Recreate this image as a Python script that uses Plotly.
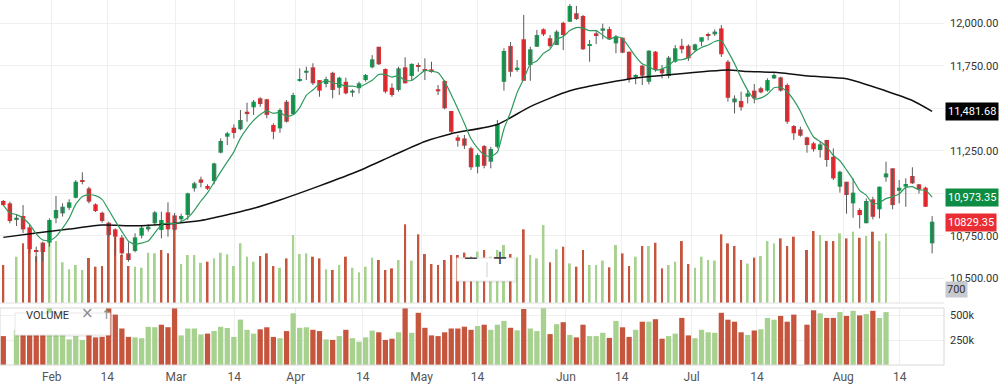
import plotly.graph_objects as go
import pandas as pd

# ---------------- data ----------------
open_ = [10955, 10941, 10843, 10867, 10800, 10661, 10710, 10710, 10853, 10882,
         10915, 10974, 11078, 11029, 10935, 10886, 10827, 10788, 10740, 10647,
         10661, 10751, 10788, 10824, 10784, 10888, 10870, 10847, 10873, 11029,
         11082, 11043, 11072, 11239, 11333, 11386, 11377, 11480, 11506, 11559,
         11553, 11402, 11382, 11539, 11466, 11661, 11709, 11741, 11666, 11643,
         11709, 11621, 11656, 11592, 11618, 11666, 11741, 11862, 11731, 11621,
         11608, 11741, 11690, 11755, 11731, 11729, 11612, 11661, 11484, 11329,
         11323, 11265, 11156, 11278, 11186, 11274, 11656, 11866, 11731, 11906,
         11755, 11862, 11965, 11912, 11872, 12003, 12009, 12059, 12043, 11866,
         11941, 11956, 11966, 11882, 11915, 11833, 11682, 11751, 11656, 11833,
         11731, 11690, 11774, 11868, 11868, 11843, 11892, 11937, 11935, 11970,
         11774, 11535, 11543, 11568, 11604, 11618, 11604, 11676, 11682, 11637,
         11396, 11376, 11329, 11294, 11255, 11314, 11215, 11039, 11068, 10941,
         10902, 10824, 10965, 10906, 11094, 11147, 11015, 11039, 11102, 11053,
         11033, 10706]
high = [10961, 10951, 10873, 10931, 10814, 10686, 10715, 10853, 10985, 10941,
        10965, 11078, 11124, 11039, 10941, 10892, 10833, 10794, 10755, 10712,
        10765, 10814, 10818, 10896, 10892, 10947, 10885, 10880, 11004, 11068,
        11098, 11053, 11180, 11323, 11362, 11406, 11490, 11533, 11549, 11565,
        11556, 11412, 11500, 11549, 11592, 11735, 11745, 11765, 11666, 11686,
        11715, 11686, 11680, 11612, 11657, 11702, 11813, 11862, 11735, 11647,
        11745, 11800, 11765, 11768, 11794, 11774, 11637, 11666, 11484, 11343,
        11343, 11274, 11235, 11284, 11274, 11431, 11853, 11890, 11784, 12049,
        11862, 11961, 11970, 11931, 11961, 12009, 12113, 12102, 12049, 11902,
        11961, 11998, 11980, 11931, 11917, 11833, 11700, 11755, 11841, 11837,
        11755, 11808, 11872, 11909, 11876, 11880, 11915, 11945, 11964, 11990,
        11784, 11576, 11598, 11608, 11643, 11627, 11676, 11706, 11686, 11647,
        11402, 11392, 11333, 11303, 11308, 11314, 11264, 11133, 11068, 11088,
        10912, 10970, 10980, 11039, 11186, 11147, 11078, 11088, 11153, 11055,
        11039, 10866]
low = [10925, 10824, 10808, 10766, 10650, 10595, 10598, 10686, 10824, 10863,
       10902, 10970, 11053, 10941, 10890, 10827, 10745, 10635, 10627, 10598,
       10653, 10735, 10775, 10810, 10735, 10745, 10780, 10835, 10844, 11010,
       11035, 11020, 11053, 11235, 11284, 11323, 11372, 11421, 11461, 11509,
       11441, 11318, 11356, 11416, 11461, 11657, 11666, 11637, 11568, 11623,
       11559, 11578, 11582, 11568, 11588, 11657, 11735, 11755, 11588, 11568,
       11598, 11647, 11666, 11715, 11666, 11709, 11578, 11494, 11353, 11274,
       11261, 11137, 11118, 11147, 11147, 11265, 11604, 11686, 11715, 11662,
       11662, 11862, 11925, 11856, 11872, 11843, 12009, 12019, 11843, 11774,
       11878, 11906, 11902, 11824, 11824, 11651, 11641, 11637, 11641, 11715,
       11676, 11676, 11768, 11823, 11778, 11833, 11866, 11900, 11925, 11802,
       11539, 11470, 11486, 11529, 11529, 11588, 11598, 11672, 11598, 11408,
       11314, 11333, 11239, 11245, 11210, 11156, 11078, 11004, 10880, 10856,
       10794, 10824, 10847, 10853, 11068, 10906, 10941, 10921, 11055, 10999,
       10921, 10647]
close = [10931, 10837, 10857, 10788, 10672, 10656, 10655, 10843, 10902, 10921,
         10947, 11068, 11070, 10951, 10896, 10837, 10755, 10745, 10647, 10608,
         10741, 10798, 10804, 10888, 10843, 10788, 10786, 10867, 11000, 11059,
         11062, 11027, 11176, 11308, 11353, 11355, 11431, 11466, 11539, 11525,
         11461, 11362, 11490, 11421, 11578, 11672, 11721, 11647, 11604, 11672,
         11608, 11680, 11588, 11604, 11647, 11696, 11788, 11759, 11598, 11578,
         11735, 11647, 11761, 11745, 11721, 11719, 11600, 11500, 11362, 11309,
         11280, 11153, 11225, 11162, 11261, 11408, 11837, 11715, 11739, 11662,
         11847, 11931, 11935, 11866, 11951, 11931, 12102, 12025, 11847, 11878,
         11931, 11970, 11906, 11921, 11827, 11671, 11696, 11692, 11839, 11725,
         11706, 11798, 11853, 11847, 11794, 11876, 11918, 11925, 11951, 11818,
         11562, 11558, 11506, 11588, 11559, 11594, 11666, 11696, 11604, 11421,
         11353, 11339, 11284, 11259, 11288, 11196, 11088, 11127, 10990, 11004,
         10872, 10955, 10862, 11039, 11117, 10931, 11033, 11055, 11059, 11023,
         10921, 10833]
# volume in thousands (None = no volume printed for that bar)
volume_k = [289, None, 352, 454, 420, 355, 400, 628, 472, 310,
            256, 289, 251, 342, 276, 281, 600, 504, 365, 281,
            276, 268, 382, 378, 403, 378, 618, 296, 365, 365,
            306, 314, 340, 382, 370, 281, 454, 352, 314, 357,
            377, 281, 268, 339, 517, 372, 377, 352, 339, 256,
            251, 289, 352, 268, 233, 276, 344, 327, 251, 263,
            327, 598, 322, 522, 372, 296, 289, 327, 365, 365,
            383, 352, 390, 403, 352, 403, 441, 372, 347, 560,
            365, 339, 593, 309, 408, 428, 301, 276, 403, 289,
            289, 322, 271, 441, 377, 281, 352, 433, 433, 458,
            263, 289, 314, 471, 296, 268, 352, 327, 322, 522,
            453, 433, 327, 300, 345, 357, 471, 453, 491, 433,
            504, None, 403, 547, 517, 471, 471, 529, 491, 542,
            496, 509, 542, 471, 529, None, None, None, None, None,
            None, None]
# long moving average at these bars
sma_long_bar = [0, 5, 10, 15, 20, 25, 30, 35, 38, 42, 48, 54, 59, 64, 68, 75,
                80, 86, 95, 101, 110, 113, 117, 123, 128, 134, 138, 141]
sma_long_val = [10741, 10767, 10790, 10813, 10809, 10820, 10840, 10883, 10912,
                10961, 11044, 11133, 11220, 11305, 11351, 11405, 11510, 11603,
                11673, 11697, 11725, 11716, 11712, 11688, 11674, 11602, 11546,
                11482]
month_labels = ["Feb", "14", "Mar", "14", "Apr", "14", "May", "14",
                "Jun", "14", "Jul", "14", "Aug", "14"]
price_ticks = [10500, 10750, 11000, 11250, 11500, 11750, 12000]
price_tick_text = ["10,500.00", "10,750.00", "", "11,250.00", "",
                   "11,750.00", "12,000.00"]
last_long, last_short, last_close = 11481.68, 10973.35, 10829.35

# ---------------- layout constants ----------------
W, H = 1000, 392
PLOT_R = 944
label_bar_pos = [7.36, 15.78, 26.21, 35.06, 44.38, 54.55, 63.5, 72.0,
                 85.4, 93.9, 104.5, 114.4, 127.5, 136.1]

UP, DN = "#13a052", "#ec2a2f"
VUP, VDN = "#a7d18e", "#c5553d"
WICK = "#5a5a5a"
GRID = "#efefef"
FONT = "Roboto, 'Liberation Sans', Arial, sans-serif"

N = len(close)
idx = list(range(N))


def py(p):  # pixel row -> paper y
    return 1 - p / H


def px(p):  # pixel column -> paper x
    return p / PLOT_R


sma_short = pd.Series(close).rolling(5, min_periods=1).mean().tolist()

vol_colors = []
for i in idx:
    ref = close[i - 1] if i > 0 else open_[i]
    vol_colors.append(VUP if close[i] >= ref else VDN)

body_base = [min(o, c) for o, c in zip(open_, close)]
body_h = [max(abs(c - o), 5) for o, c in zip(open_, close)]
body_col = [UP if c >= o else DN for o, c in zip(open_, close)]

wx, wy = [], []
for i in idx:
    wx += [i, i, None]
    wy += [low[i], high[i], None]

fig = go.Figure()
# volume underlay in the price pane
fig.add_trace(go.Bar(x=idx, y=volume_k, marker=dict(color=vol_colors, line_width=0),
                     width=0.3, xaxis="x", yaxis="y", hoverinfo="skip"))
# volume pane
fig.add_trace(go.Bar(x=idx, y=volume_k, marker=dict(color=vol_colors, line_width=0),
                     width=0.8, xaxis="x2", yaxis="y2", hoverinfo="skip"))
# candles
fig.add_trace(go.Scatter(x=wx, y=wy, mode="lines", line=dict(color=WICK, width=1),
                         xaxis="x", yaxis="y3", hoverinfo="skip"))
fig.add_trace(go.Bar(x=idx, y=body_h, base=body_base,
                     marker=dict(color=body_col, line_width=0), width=0.68,
                     xaxis="x", yaxis="y3", hoverinfo="skip"))
# moving averages
fig.add_trace(go.Scatter(x=sma_long_bar, y=sma_long_val, mode="lines",
                         line=dict(color="#111111", width=1.5, shape="spline", smoothing=0.6),
                         xaxis="x", yaxis="y3", hoverinfo="skip"))
fig.add_trace(go.Scatter(x=idx, y=sma_short, mode="lines",
                         line=dict(color="#2f9a5e", width=1.2, shape="spline", smoothing=0.5),
                         xaxis="x", yaxis="y3", hoverinfo="skip"))

xr = [-0.5, 142.8]
common_x = dict(range=xr, tickvals=label_bar_pos, showgrid=True, gridcolor=GRID,
                zeroline=False, showline=False, ticks="", fixedrange=True)

fig.update_layout(
    width=W, height=H,
    margin=dict(l=0, r=W - PLOT_R, t=0, b=0),
    paper_bgcolor="white", plot_bgcolor="white",
    showlegend=False, barmode="overlay", hovermode=False,
    font=dict(family=FONT, size=12, color="#333"),
    xaxis=dict(domain=[0, 1], anchor="y", showticklabels=False, **common_x),
    yaxis=dict(domain=[py(303), 1], range=[0, 303 * 7.6], visible=False, fixedrange=True),
    yaxis3=dict(overlaying="y", anchor="x", side="right", range=[10355, 12137],
                tickvals=price_ticks, ticktext=price_tick_text, showgrid=True,
                gridcolor=GRID, zeroline=False, showline=False, ticks="",
                ticklabelstandoff=5, tickfont=dict(size=11, color="#333"),
                automargin=False, fixedrange=True),
    xaxis2=dict(domain=[0, 1], anchor="y2", ticktext=month_labels, showticklabels=True,
                tickfont=dict(size=12, color="#555"), ticklabelstandoff=3,
                automargin=False, **common_x),
    yaxis2=dict(domain=[py(365), py(308)], anchor="x2", side="right", range=[0, 570],
                tickvals=[250, 500], ticktext=["250k", "500k"], showgrid=True,
                gridcolor=GRID, zeroline=False, showline=False, ticks="",
                ticklabelstandoff=5, tickfont=dict(size=11, color="#333"),
                automargin=False, fixedrange=True),
)

shapes = [
    dict(type="line", xref="paper", yref="paper", x0=0, x1=1, y0=py(303), y1=py(303),
         line=dict(color="#e2e2e2", width=1)),
    dict(type="rect", xref="paper", yref="paper", x0=0, x1=1, y0=py(365), y1=py(308),
         line=dict(color="#d8d8d8", width=1)),
    # soft shadows + boxes for the study legend and the zoom control
    dict(type="rect", xref="paper", yref="paper", x0=px(16), x1=px(112), y0=py(337), y1=py(314),
         fillcolor="rgba(0,0,0,0.06)", line_width=0),
    dict(type="rect", xref="paper", yref="paper", x0=px(15), x1=px(110), y0=py(335), y1=py(313),
         fillcolor="white", line=dict(color="#e6e6e6", width=1)),
    dict(type="rect", xref="paper", yref="paper", x0=px(458), x1=px(517), y0=py(283), y1=py(259),
         fillcolor="rgba(0,0,0,0.06)", line_width=0),
    dict(type="rect", xref="paper", yref="paper", x0=px(457), x1=px(515), y0=py(281), y1=py(258),
         fillcolor="white", line=dict(color="#e6e6e6", width=1)),
    dict(type="line", xref="paper", yref="paper", x0=px(487), x1=px(487), y0=py(277), y1=py(262),
         line=dict(color="#cfcfcf", width=1)),
]
fig.update_layout(shapes=shapes)

ann = [
    dict(text="VOLUME", x=px(24), y=py(324), xanchor="left", font=dict(size=11, color="#333")),
    dict(text="×", x=px(79), y=py(324), font=dict(size=15, color="#8a8a8a", family="DejaVu Sans")),
    dict(text="↑", x=px(99), y=py(324), font=dict(size=13, color="#8a8a8a", family="DejaVu Sans")),
    dict(text="−", x=px(471), y=py(269.5), font=dict(size=19, color="#444", family="DejaVu Sans")),
    dict(text="+", x=px(500), y=py(269.5), font=dict(size=19, color="#444", family="DejaVu Sans")),
    dict(text="700", x=1, y=py(297.5), xanchor="left", xshift=1, bgcolor="#c6c9cf",
         font=dict(size=11, color="#333"), borderpad=1),
]
for a in ann:
    a.setdefault("xref", "paper")
    a.setdefault("yref", "paper")
    a["showarrow"] = False
for val, txt, col in [(last_long, f"{last_long:,.2f}", "#000000"),
                      (last_short, f"{last_short:,.2f}", "#0c8d43"),
                      (last_close, f"{last_close:.2f}", "#ea2d33")]:
    ann.append(dict(text=txt, x=1, xref="paper", y=val, yref="y3", xanchor="left",
                    xshift=1, showarrow=False, bgcolor=col, borderpad=2,
                    font=dict(size=11, color="white")))
fig.update_layout(annotations=ann)

fig.write_html("out.html", config={"displayModeBar": False},
               post_script="document.body.style.margin='0';document.body.style.overflow='hidden';")
